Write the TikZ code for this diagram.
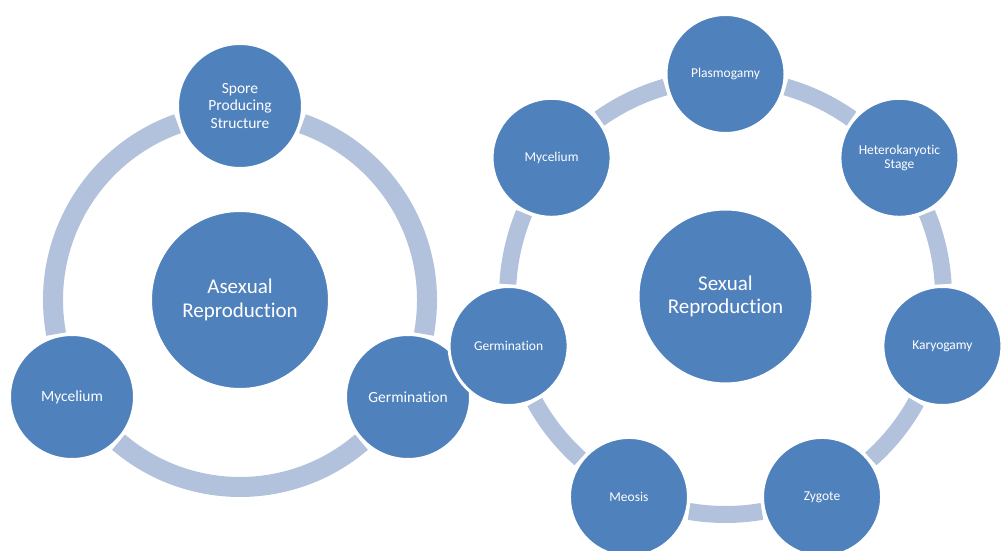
\documentclass[tikz,border=0pt]{standalone}
\usepackage{fontspec}
\setmainfont[Ligatures=NoCommon]{Carlito}
\usetikzlibrary{backgrounds}
\definecolor{cycleblue}{HTML}{4F81BD}
\definecolor{ringblue}{HTML}{B2C1DC}

\begin{document}
\begin{tikzpicture}[x=1pt,y=1pt,
	hub/.style={circle,fill=cycleblue,draw=white,line width=3pt,inner sep=0pt,
		text=white,align=center,font=\fontsize{21}{23.5}\selectfont},
	bigleaf/.style={circle,fill=cycleblue,draw=white,line width=3pt,inner sep=0pt,
		minimum size=125pt,text=white,align=center,font=\fontsize{15.5}{17.2}\selectfont},
	smallleaf/.style={circle,fill=cycleblue,draw=white,line width=3pt,inner sep=0pt,
		minimum size=119pt,text=white,align=center,font=\fontsize{13.5}{14.5}\selectfont},
	ringL/.style={draw=ringblue,line width=20pt,line cap=butt},
	ringR/.style={draw=ringblue,line width=17pt,line cap=butt}]
	\clip (0,0) rectangle (1002,551);

	% asexual cycle
	\node[hub,minimum size=179pt] (asex) at (240,251) {Asexual\\Reproduction};
	\node[bigleaf] (spore) at ([shift={(90:194)}]asex) {Spore\\Producing\\Structure};
	\node[bigleaf] (myceL) at ([shift={(210:194)}]asex) {Mycelium};
	\node[bigleaf] (germL) at ([shift={(330:194)}]asex) {Germination};

	% sexual cycle
	\node[hub,minimum size=175pt] (sex) at (725.5,254.5) {Sexual\\Reproduction};
	\node[smallleaf] (plasmo) at ([shift={(90:222.5)}]sex) {Plasmogamy};
	\node[smallleaf] (hetero) at ([shift={(38.571:222.5)}]sex) {Heterokaryotic\\Stage};
	\node[smallleaf] (karyo) at ([shift={(-12.857:222.5)}]sex) {Karyogamy};
	\node[smallleaf] (zygote) at ([shift={(-64.286:222.5)}]sex) {Zygote};
	\node[smallleaf] (meosis) at ([shift={(-115.714:222.5)}]sex) {Meosis};
	\node[smallleaf] (germR) at ([shift={(-167.143:222.5)}]sex) {Germination};
	\node[smallleaf] (myceR) at ([shift={(141.429:222.5)}]sex) {Mycelium};

	% ring pieces between the circles
	\begin{scope}[on background layer]
		\foreach \a in {90,210,330}
			\draw[ringL] ([shift={({\a+19.5}:187)}]asex.center)
				arc[start angle=\a+19.5,delta angle=81,radius=187];
		\foreach \k in {0,...,6}
			\draw[ringR] ([shift={({90+\k*51.4286+16.1}:218)}]sex.center)
				arc[start angle=90+\k*51.4286+16.1,delta angle=19.23,radius=218];
	\end{scope}
\end{tikzpicture}
\end{document}
